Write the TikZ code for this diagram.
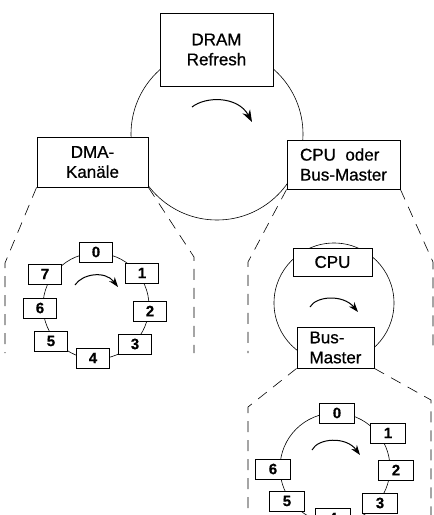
\documentclass[tikz,border=0pt]{standalone}
\usepackage{fontspec}
\setmainfont{Liberation Sans}
\newfontfamily\lblfont{Liberation Sans}[FakeBold=0.7]
\newfontfamily\numfont{Liberation Sans}[FakeBold=0.5]
\usetikzlibrary{arrows.meta}
\begin{document}
\begin{tikzpicture}[x=1pt,y=-1pt,
  lbl/.style={draw,fill=white,line width=0.9pt,inner sep=0pt,align=center,font=\lblfont\fontsize{17}{20}\selectfont},
  num/.style={draw,fill=white,line width=0.9pt,minimum width=33pt,minimum height=20pt,inner sep=0pt,font=\numfont\bfseries\fontsize{15}{15}\selectfont},
  numb/.style={num,minimum width=35pt},
  ring/.style={line width=0.6pt},
  dsh/.style={line width=0.6pt,dash pattern=on 11pt off 8pt},
  turn/.style={line width=1pt,-{Stealth[length=10pt,width=7pt]}}]
\useasboundingbox (0,0) rectangle (434,515);
% rings
\draw[ring] (217,134) circle[radius=86pt];
\draw[ring] (96,306) circle[radius=53pt];
\draw[ring] (334,303) circle[radius=60pt];
\draw[ring] (335,468) circle[radius=55pt];
% rotation arrows
\draw[turn,-{Stealth[length=12pt,width=8.5pt]}] (192,107) .. controls (206,96) and (238,96) .. (252,122);
\draw[turn] (75,285) .. controls (82,274) and (105,270) .. (118,287);
\draw[turn] (310,307) .. controls (316,296) and (343,294) .. (358,312);
\draw[turn] (312,450) .. controls (318,438) and (346,436) .. (360,455);
% main boxes
\node[lbl,minimum width=113pt,minimum height=73pt] (dram) at (216.5,49.5) {DRAM\\Refresh};
\node[lbl,minimum width=111pt,minimum height=50pt] (dma) at (92.5,162) {DMA-\\Kanäle};
\node[lbl,minimum width=113pt,minimum height=49pt,align=left] (cpubm) at (343.5,164.5) {CPU\ \ oder\\Bus-Master};
\node[lbl,minimum width=79pt,minimum height=28pt] (cpu) at (332.5,262) {CPU};
\node[lbl,minimum width=77pt,minimum height=41pt,align=left] (bm) at (335.5,347.5) {Bus-\\Master};
% DMA channels
\node[num] (d0) at (96,252) {0};
\node[num] (d1) at (142,273) {1};
\node[num] (d2) at (150,311) {2};
\node[num] (d3) at (135,344) {3};
\node[num] (d4) at (93,358) {4};
\node[num] (d5) at (51,341) {5};
\node[num] (d6) at (40,308) {6};
\node[num] (d7) at (45,274) {7};
% bus masters
\node[numb] (b0) at (337,413) {0};
\node[numb] (b1) at (388,433) {1};
\node[numb] (b2) at (396,470) {2};
\node[numb] (b3) at (380,503) {3};
\node[numb] (b4) at (333,518) {4};
\node[numb] (b5) at (287,501) {5};
\node[numb] (b6) at (273,469) {6};
% dashed zoom outlines
\coordinate (dl1) at (5,263);  \coordinate (dl2) at (5,353);
\coordinate (dr1) at (194,257); \coordinate (dr2) at (194,353);
\coordinate (cl1) at (248,262); \coordinate (cl2) at (248,353);
\coordinate (cr1) at (433,262); \coordinate (cr2) at (433,353);
\coordinate (bl1) at (248,407); \coordinate (bl2) at (248,515);
\coordinate (br1) at (431,400); \coordinate (br2) at (431,515);
\draw[dsh] (dma.south west) -- (dl1) -- (dl2);
\draw[dsh] (dma.south east) -- (dr1) -- (dr2);
\draw[dsh] (cpubm.south west) -- (cl1) -- (cl2);
\draw[dsh] (cpubm.south east) -- (cr1) -- (cr2);
\draw[dsh] (bm.south west) -- (bl1) -- (bl2);
\draw[dsh] (bm.south east) -- (br1) -- (br2);
\end{tikzpicture}
\end{document}
